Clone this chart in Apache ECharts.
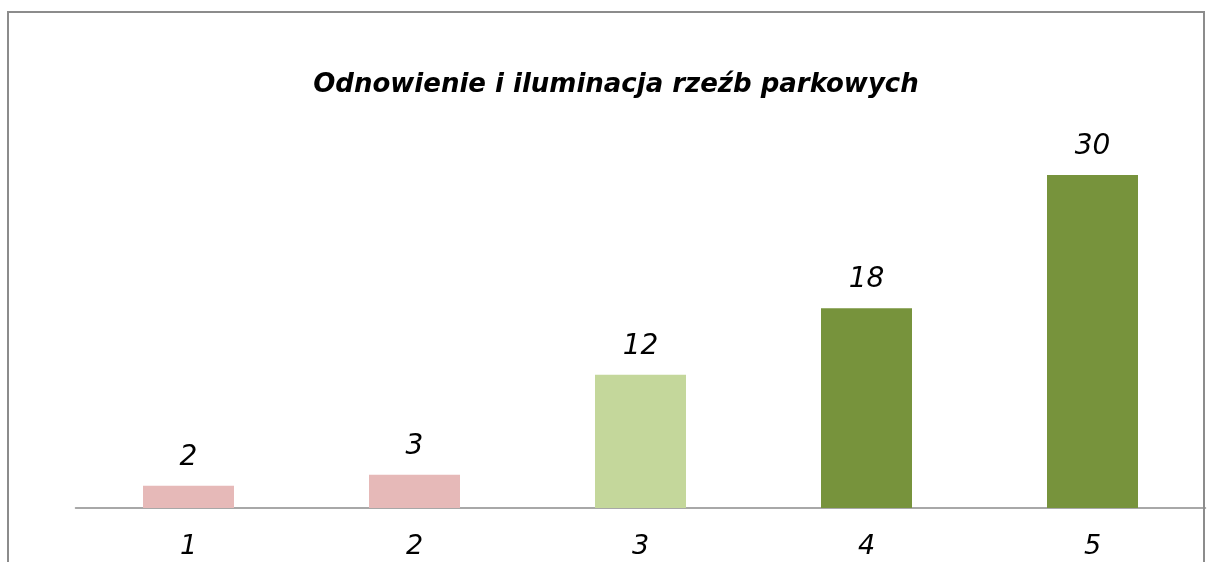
<!DOCTYPE html>
<html>
<head>
<meta charset="utf-8">
<script src="https://cdn.jsdelivr.net/npm/echarts@6/dist/echarts.min.js"></script>
<style>
  html, body { margin: 0; padding: 0; background: #fff; }
  #chart { width: 1207px; height: 562px; }
</style>
</head>
<body>
<div id="chart"></div>
<script>
// 数据
const categories = ['1', '2', '3', '4', '5']
const values = [2, 3, 12, 18, 30]
const titleText = 'Odnowienie i iluminacja rzeźb parkowych'

// 每个柱子的颜色
const BAR_COLORS = ['#E6B9B8', '#E6B9B8', '#C4D79B', '#77933C', '#77933C']

const FONT = '"DejaVu Sans", Verdana, sans-serif'

const chart = echarts.init(document.getElementById('chart'), null, { renderer: 'canvas' })

chart.setOption({
  backgroundColor: '#ffffff',
  animation: false,
  title: {
    text: titleText,
    left: 611,
    top: 67,
    textAlign: 'center',
    textStyle: {
      fontFamily: FONT,
      fontSize: 26,
      fontStyle: 'italic',
      fontWeight: 'bold',
      color: '#000'
    }
  },
  // 外框
  graphic: [{
    type: 'rect',
    shape: { x: 8, y: 12, width: 1196, height: 620 },
    style: { fill: 'none', stroke: '#8c8c8c', lineWidth: 2 },
    silent: true
  }],
  grid: {
    left: 75.5,
    right: 1.5,
    top: 64,
    bottom: 54
  },
  xAxis: {
    type: 'category',
    data: categories,
    axisLine: { lineStyle: { color: '#8c8c8c', width: 1.5 } },
    axisTick: { show: false },
    axisLabel: {
      margin: 25,
      color: '#000',
      fontFamily: FONT,
      fontSize: 27,
      fontStyle: 'italic'
    }
  },
  yAxis: {
    type: 'value',
    min: 0,
    max: 40,
    show: false,
    splitLine: { show: false }
  },
  series: [{
    type: 'bar',
    barWidth: 91,
    data: values.map((v, i) => ({ value: v, itemStyle: { color: BAR_COLORS[i] } })),
    label: {
      show: true,
      position: 'top',
      distance: 14,
      color: '#000',
      fontFamily: FONT,
      fontSize: 28,
      fontStyle: 'italic'
    }
  }]
})
</script>
</body>
</html>
